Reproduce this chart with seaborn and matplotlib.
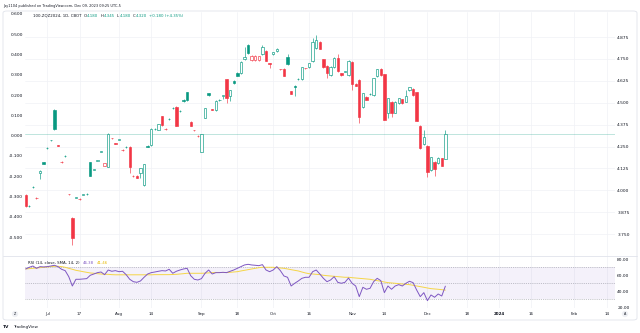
import numpy as np
import pandas as pd
import matplotlib
matplotlib.use("Agg")
import matplotlib.pyplot as plt
from matplotlib.patches import FancyBboxPatch
from matplotlib.lines import Line2D
from matplotlib.ticker import FuncFormatter
import seaborn as sns

# ---- daily OHLC, 100-ZQZ2024 (CBOT), 2023-06-23 .. 2023-12-08 ----
opens = [3.973, 3.910, 4.017, 3.958, 4.097, 4.160, 4.240, 4.285, 4.459, 4.257,
         4.164, 4.194, 3.979, 3.840, 3.958, 3.953, 3.975, 3.979, 4.160, 4.118,
         4.170, 4.221, 4.141, 4.135, 4.299, 4.268, 4.289, 4.232, 4.247, 4.249,
         4.084, 4.084, 4.097, 4.030, 4.255, 4.259, 4.350, 4.345, 4.423, 4.352,
         4.407, 4.468, 4.478, 4.451, 4.516, 4.560, 4.390, 4.345, 4.312, 4.221,
         4.415, 4.554, 4.462, 4.459, 4.514, 4.541, 4.634, 4.540, 4.624, 4.672,
         4.668, 4.748, 4.832, 4.744, 4.744, 4.744, 4.779, 4.797, 4.725, 4.779,
         4.794, 4.693, 4.695, 4.760, 4.566, 4.598, 4.634, 4.636, 4.699, 4.703,
         4.739, 4.811, 4.849, 4.748, 4.710, 4.659, 4.703, 4.757, 4.668, 4.678,
         4.657, 4.733, 4.607, 4.630, 4.474, 4.535, 4.548, 4.543, 4.653, 4.695,
         4.663, 4.443, 4.506, 4.443, 4.497, 4.520, 4.506, 4.573, 4.579, 4.560,
         4.369, 4.265, 4.255, 4.116, 4.164, 4.154, 4.183, 4.180]
highs = [3.978, 3.916, 4.022, 3.960, 4.116, 4.163, 4.245, 4.290, 4.462, 4.259,
         4.166, 4.199, 3.981, 3.846, 3.963, 3.955, 3.980, 3.984, 4.163, 4.123,
         4.175, 4.226, 4.157, 4.326, 4.301, 4.270, 4.294, 4.234, 4.252, 4.252,
         4.086, 4.087, 4.129, 4.152, 4.258, 4.353, 4.355, 4.380, 4.426, 4.354,
         4.412, 4.473, 4.481, 4.456, 4.519, 4.563, 4.393, 4.347, 4.314, 4.323,
         4.471, 4.557, 4.464, 4.513, 4.519, 4.546, 4.637, 4.574, 4.627, 4.675,
         4.738, 4.820, 4.835, 4.772, 4.771, 4.769, 4.830, 4.800, 4.727, 4.791,
         4.812, 4.695, 4.698, 4.780, 4.569, 4.601, 4.639, 4.706, 4.701, 4.728,
         4.870, 4.887, 4.852, 4.751, 4.713, 4.709, 4.760, 4.780, 4.671, 4.683,
         4.743, 4.736, 4.610, 4.633, 4.557, 4.538, 4.553, 4.643, 4.694, 4.698,
         4.666, 4.529, 4.509, 4.509, 4.529, 4.523, 4.573, 4.591, 4.582, 4.563,
         4.372, 4.345, 4.258, 4.192, 4.167, 4.189, 4.186, 4.345]
lows = [3.905, 3.906, 4.014, 3.952, 4.065, 4.149, 4.237, 4.282, 4.346, 4.251,
        4.158, 4.191, 3.973, 3.688, 3.955, 3.947, 3.972, 3.976, 4.080, 4.115,
        4.167, 4.218, 4.137, 4.131, 4.293, 4.262, 4.286, 4.226, 4.244, 4.101,
        4.078, 4.068, 4.069, 4.026, 4.246, 4.255, 4.347, 4.342, 4.370, 4.346,
        4.404, 4.465, 4.366, 4.448, 4.505, 4.511, 4.366, 4.339, 4.306, 4.217,
        4.411, 4.541, 4.456, 4.455, 4.511, 4.520, 4.500, 4.508, 4.608, 4.652,
        4.664, 4.744, 4.781, 4.740, 4.740, 4.740, 4.775, 4.737, 4.700, 4.775,
        4.790, 4.687, 4.652, 4.717, 4.549, 4.539, 4.631, 4.632, 4.693, 4.699,
        4.735, 4.807, 4.804, 4.700, 4.640, 4.655, 4.699, 4.677, 4.654, 4.675,
        4.653, 4.573, 4.593, 4.386, 4.470, 4.513, 4.545, 4.539, 4.649, 4.654,
        4.399, 4.413, 4.419, 4.439, 4.493, 4.494, 4.502, 4.569, 4.541, 4.393,
        4.237, 4.261, 4.078, 4.112, 4.082, 4.150, 4.137, 4.180]
closes = [3.911, 3.913, 4.019, 3.956, 4.112, 4.152, 4.242, 4.287, 4.349, 4.255,
          4.162, 4.196, 3.977, 3.728, 3.960, 3.951, 3.977, 3.981, 4.084, 4.120,
          4.172, 4.223, 4.154, 4.323, 4.297, 4.266, 4.291, 4.230, 4.249, 4.132,
          4.082, 4.072, 4.126, 4.149, 4.249, 4.350, 4.352, 4.377, 4.373, 4.350,
          4.409, 4.470, 4.369, 4.453, 4.508, 4.514, 4.369, 4.343, 4.310, 4.320,
          4.468, 4.544, 4.460, 4.510, 4.516, 4.543, 4.529, 4.571, 4.611, 4.655,
          4.735, 4.763, 4.784, 4.769, 4.768, 4.766, 4.817, 4.740, 4.723, 4.788,
          4.809, 4.691, 4.655, 4.720, 4.552, 4.588, 4.636, 4.703, 4.697, 4.725,
          4.849, 4.858, 4.807, 4.703, 4.668, 4.706, 4.757, 4.680, 4.657, 4.680,
          4.740, 4.607, 4.596, 4.417, 4.554, 4.516, 4.550, 4.640, 4.691, 4.657,
          4.402, 4.526, 4.440, 4.506, 4.526, 4.497, 4.540, 4.588, 4.544, 4.396,
          4.240, 4.306, 4.106, 4.189, 4.120, 4.186, 4.140, 4.320]

# ---- RSI(14) and its 14-period SMA ----
rsi_values = [67.9, 70.0, 71.6, 68.7, 70.8, 70.4, 70.8, 71.6, 72.5, 70.8,
              67.5, 65.8, 58.3, 46.6, 55.0, 55.0, 55.4, 55.8, 60.0, 61.6,
              63.3, 64.1, 60.8, 66.6, 65.0, 65.8, 64.5, 65.0, 60.8, 55.0,
              52.0, 51.2, 52.9, 57.5, 61.6, 63.3, 64.1, 65.0, 65.8, 65.4,
              67.5, 62.5, 65.0, 66.6, 67.9, 68.7, 59.5, 55.0, 54.1, 55.8,
              62.5, 66.6, 61.6, 63.3, 63.3, 63.7, 63.3, 65.0, 66.6, 68.7,
              70.8, 72.9, 73.7, 72.9, 72.5, 72.0, 73.3, 66.6, 64.5, 66.6,
              70.8, 65.8, 59.1, 57.5, 46.6, 50.0, 52.9, 56.2, 57.5, 57.5,
              64.5, 66.6, 61.6, 56.2, 52.0, 54.1, 58.3, 51.2, 50.0, 51.2,
              56.6, 50.0, 46.6, 33.3, 45.0, 42.5, 43.7, 52.0, 56.2, 53.3,
              38.3, 46.6, 42.5, 46.6, 48.3, 46.6, 50.0, 52.5, 50.8, 41.6,
              33.3, 38.3, 28.3, 35.4, 32.5, 36.6, 34.1, 46.38]
rsi_sma_values = [67.9, 68.3, 68.7, 69.1, 69.5, 70.0, 70.4, 70.8, 71.2, 71.2,
                  70.8, 70.0, 68.7, 67.5, 66.2, 65.4, 64.5, 63.7, 62.9, 62.5,
                  62.0, 61.6, 61.2, 61.2, 60.8, 60.6, 60.6, 60.6, 60.6, 60.6,
                  60.6, 60.6, 60.6, 60.6, 60.6, 60.6, 60.8, 60.8, 60.8, 60.8,
                  60.8, 61.0, 61.2, 61.6, 62.0, 62.5, 62.5, 62.5, 62.5, 62.5,
                  62.7, 63.0, 63.3, 63.5, 63.5, 63.5, 63.5, 63.7, 64.1, 64.5,
                  65.4, 66.2, 67.0, 67.9, 68.7, 69.5, 70.0, 70.0, 70.0, 70.0,
                  69.5, 69.1, 68.7, 67.9, 67.0, 66.2, 65.4, 64.1, 62.9, 62.0,
                  61.6, 61.2, 60.8, 60.0, 59.5, 59.1, 58.7, 58.3, 57.9, 57.5,
                  57.5, 57.0, 56.6, 56.2, 55.8, 55.4, 55.0, 54.1, 53.3, 52.5,
                  51.6, 50.8, 50.4, 50.0, 49.5, 49.1, 48.7, 48.3, 47.5, 46.6,
                  45.8, 45.0, 44.1, 43.3, 42.9, 42.5, 42.0, 41.46]

# ---- axis ticks ----
price_ticks = [3.750, 3.875, 4.000, 4.125, 4.250, 4.375, 4.500, 4.625, 4.750, 4.875]
left_ticks = [-0.5, -0.4, -0.3, -0.2, -0.1, 0.0, 0.1, 0.2, 0.3, 0.4, 0.5, 0.6]
rsi_ticks = [20, 40, 60, 80]
tick_dates = ["2023-07-03", "2023-07-17", "2023-08-01", "2023-08-14", "2023-09-01",
              "2023-09-18", "2023-10-02", "2023-10-16", "2023-11-01", "2023-11-14",
              "2023-12-01", "2023-12-18", "2024-01-02", "2024-01-16", "2024-02-01",
              "2024-02-14"]
tick_labels = ["Jul", "17", "Aug", "14", "Sep", "18", "Oct", "16", "Nov", "14",
               "Dec", "18", "2024", "16", "Feb", "14"]
holidays = ["2023-07-04", "2023-09-04", "2023-11-23", "2023-12-25",
            "2024-01-01", "2024-01-15", "2024-02-19"]

TEAL = "#089981"
RED = "#F23645"
PURPLE = "#7E57C2"
YELLOW = "#F5D547"
TXT = "#131722"
GRID = "#f0f2f6"
BORDER = "#e0e3eb"

# trading sessions -> bar index on the x axis
sessions = pd.bdate_range("2023-06-23", "2024-03-01", freq="C", holidays=holidays)
pos = {d.strftime("%Y-%m-%d"): i for i, d in enumerate(sessions)}

sns.set_theme(style="white")
plt.rcParams["font.family"] = ["DejaVu Sans"]

W, H = 640, 333
fig = plt.figure(figsize=(W / 100, H / 100), dpi=100)
fig.patch.set_facecolor("white")


def fx(px):
    return px / W


def fy(py):
    return 1 - py / H


ax = fig.add_axes([fx(25), fy(256), fx(615) - fx(25), fy(12) - fy(256)])
axr = fig.add_axes([fx(25), fy(308), fx(615) - fx(25), fy(256) - fy(308)], sharex=ax)

o = np.asarray(opens)
h = np.asarray(highs)
l = np.asarray(lows)
c = np.asarray(closes)
x = np.arange(len(c))
prev = np.r_[o[0], c[:-1]]
col = np.where(c >= prev, TEAL, RED)
hollow = c > o

# hollow candles: colour from close vs previous close, fill from close vs open
ax.vlines(x, l, h, colors=col, lw=0.45, zorder=2)
ax.bar(x, np.maximum(np.abs(c - o), 0.002), bottom=np.minimum(o, c), width=0.66,
       color=np.where(hollow, "white", col), edgecolor=col, linewidth=0.45, zorder=3)
ax.axhline(c[-1], color=TEAL, alpha=0.3, lw=0.6, zorder=1)

ax.set_xlim(-0.2, 164.3)
ax.set_ylim(3.625, 5.018)
ax.yaxis.tick_right()
ax.set_yticks(price_ticks)
ax.yaxis.set_major_formatter(FuncFormatter(lambda v, p: f"{v:.3f}"))
ax.tick_params(axis="y", length=0, labelsize=3.2, pad=1.6, labelcolor=TXT)
ax.tick_params(axis="x", length=0, labelbottom=False)
ax.grid(True, color=GRID, lw=0.5)
for s in ax.spines.values():
    s.set_visible(False)

# left scale (percent-style scale of the same series)
P0, K = 4.312, 1.158
sec = ax.secondary_yaxis("left", functions=(lambda p: (p - P0) / K, lambda v: P0 + v * K))
sec.set_yticks(left_ticks)
sec.yaxis.set_major_formatter(FuncFormatter(lambda v, p: f"{v:.3f}".replace("-0.000", "0.000")))
sec.tick_params(length=0, labelsize=3.2, pad=1.6, labelcolor=TXT)
for s in sec.spines.values():
    s.set_visible(False)

# RSI pane
rsi_df = pd.DataFrame({"bar": x, "RSI": rsi_values, "SMA": rsi_sma_values})
axr.axhspan(30, 70, color=PURPLE, alpha=0.08, lw=0)
for lv in (70, 50, 30):
    axr.axhline(lv, color="#787B86", lw=0.5, ls=(0, (1.2, 1.5)), alpha=0.7)
sns.lineplot(data=rsi_df, x="bar", y="SMA", ax=axr, color=YELLOW, lw=0.7)
sns.lineplot(data=rsi_df, x="bar", y="RSI", ax=axr, color=PURPLE, lw=0.7)
axr.set_ylim(19.1, 84.1)
axr.yaxis.tick_right()
axr.set_yticks(rsi_ticks)
axr.yaxis.set_major_formatter(FuncFormatter(lambda v, p: f"{v:.2f}"))
axr.set_xticks([pos[d] for d in tick_dates])
axr.set_xticklabels(tick_labels)
for t in axr.get_xticklabels():
    if t.get_text() == "2024":
        t.set_fontweight("bold")
axr.tick_params(axis="y", length=0, labelsize=3.2, pad=1.6, labelcolor=TXT)
axr.tick_params(axis="x", length=0, labelsize=2.9, pad=3.0, labelcolor=TXT)
axr.set_xlabel("")
axr.set_ylabel("")
axr.grid(True, axis="x", color=GRID, lw=0.5)
for s in axr.spines.values():
    s.set_visible(False)

# frame and pane separator
fig.patches.append(FancyBboxPatch((fx(3), fy(320)), fx(637) - fx(3), fy(11) - fy(320),
                                  boxstyle="round,pad=0,rounding_size=0.006",
                                  transform=fig.transFigure, fill=False,
                                  edgecolor=BORDER, lw=0.6))
fig.add_artist(Line2D([fx(3), fx(637)], [fy(256), fy(256)], color=BORDER, lw=0.6))


def text_chain(parts, px, py, size):
    """Write coloured text pieces one after another on a single line."""
    t = fig.text(fx(px), fy(py), parts[0][0], color=parts[0][1], fontsize=size,
                 va="center", ha="left")
    for s, colr, gap in parts[1:]:
        t = fig.add_artist(plt.Annotation(s, xy=(1, 0.5), xycoords=t, xytext=(gap, 0),
                                          textcoords="offset points", va="center",
                                          ha="left", color=colr, fontsize=size))
    return t


fig.text(fx(3), fy(5.7), "Jay1104 published on TradingView.com, Dec 09, 2023 09:25 UTC-5",
         fontsize=2.5, color=TXT, va="center", ha="left")

chg = c[-1] - c[-2]
text_chain([("100-ZQZ2024, 1D, CBOT", TXT),
            ("O", TXT, 1.6), (f"{o[-1]:.3f}", TEAL, 0.2),
            ("H", TXT, 1.6), (f"{h[-1]:.3f}", TEAL, 0.2),
            ("L", TXT, 1.6), (f"{l[-1]:.3f}", TEAL, 0.2),
            ("C", TXT, 1.6), (f"{c[-1]:.3f}", TEAL, 0.2),
            (f"{chg:+.3f} ({chg / c[-2] * 100:+.2f}%)", TEAL, 1.6)],
           33, 15.7, 2.8)

text_chain([("RSI (14, close, SMA, 14, 2)", TXT),
            (f"{rsi_values[-1]:.2f}", PURPLE, 2.0),
            (f"{rsi_sma_values[-1]:.2f}", "#E6B800", 2.0)],
           28, 262.7, 2.8)

# scale buttons and logo
for px, s in ((15, "Z"), (625, "A")):
    fig.text(fx(px), fy(314), s, fontsize=2.4, color=TXT, ha="center", va="center",
             bbox=dict(boxstyle="circle,pad=0.35", fc="#eef0f4", ec="none"))
fig.text(fx(3), fy(327.3), "TV", fontsize=3.2, fontweight="bold", color=TXT, va="center")
fig.text(fx(12.7), fy(327.3), "TradingView", fontsize=3.0, color=TXT, va="center")

fig.savefig("out.png", dpi=100)
